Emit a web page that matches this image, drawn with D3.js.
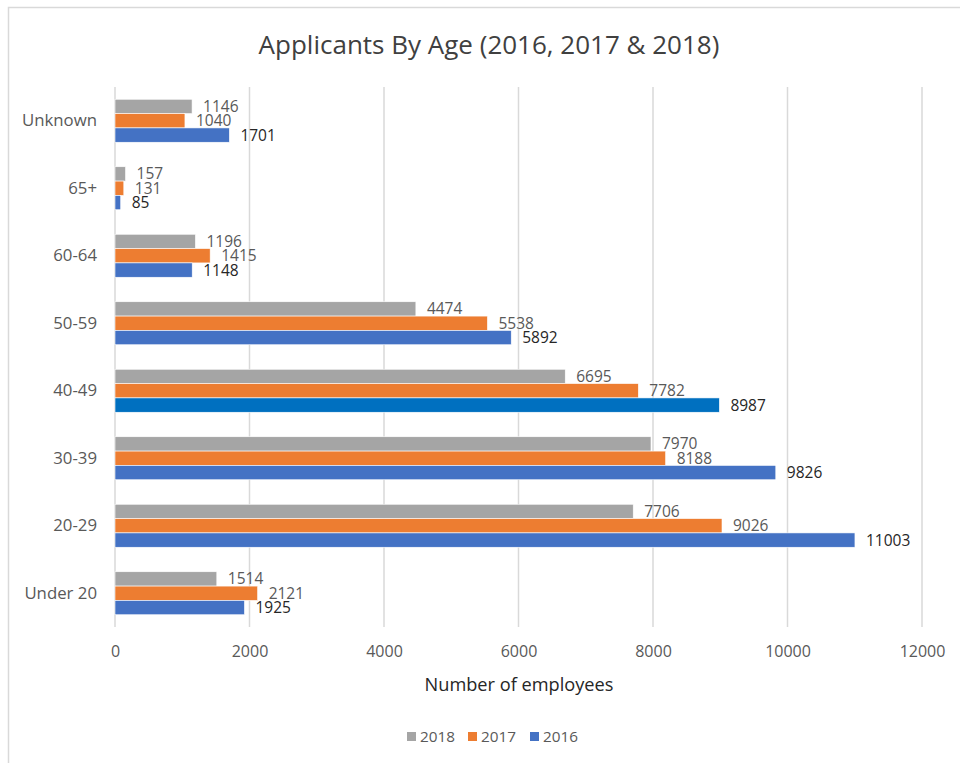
<!DOCTYPE html>
<html>
<head>
<meta charset="utf-8">
<script src="https://cdn.jsdelivr.net/npm/d3@7"></script>
<style>
  html, body { margin: 0; padding: 0; background: #fff; }
  svg { display: block; font-family: "Open Sans", "Noto Sans", sans-serif; }
</style>
</head>
<body>
<svg id="chart" width="960" height="763"></svg>
<script>
// Age groups, listed top to bottom as drawn
const categories = ["Unknown", "65+", "60-64", "50-59", "40-49", "30-39", "20-29", "Under 20"];
const seriesNames = ["2018", "2017", "2016"];
const values2018 = [1146, 157, 1196, 4474, 6695, 7970, 7706, 1514];
const values2017 = [1040, 131, 1415, 5538, 7782, 8188, 9026, 2121];
const values2016 = [1701, 85, 1148, 5892, 8987, 9826, 11003, 1925];
const xTicks = [0, 2000, 4000, 6000, 8000, 10000, 12000];

const seriesValues = { "2018": values2018, "2017": values2017, "2016": values2016 };
const colors = { "2018": "#a5a5a5", "2017": "#ed7d31", "2016": "#4472c4" };
// single highlighted bar (2016, 40-49)
const highlight = { series: "2016", category: "40-49", color: "#0070c0" };

const svg = d3.select("#chart");

// chart frame
svg.append("rect").attr("x", 8.5).attr("y", 7.5).attr("width", 1000).attr("height", 1000)
  .attr("fill", "#fff").attr("stroke", "#d9d9d9").attr("stroke-width", 1.5);

const plot = { left: 115, right: 922, top: 87, bottom: 627 };

const x = d3.scaleLinear().domain([0, 12000]).range([plot.left, plot.right]);
const y = d3.scaleBand().domain(categories).range([plot.top, plot.bottom])
  .paddingInner(0.363).paddingOuter(0.1815);
const ySub = d3.scaleBand().domain(seriesNames).range([0, y.bandwidth()]);

// title
svg.append("text").attr("x", 489).attr("y", 54).attr("text-anchor", "middle")
  .attr("font-size", 26).attr("fill", "#404040").text("Applicants By Age (2016, 2017 & 2018)");

// vertical gridlines
svg.append("g").selectAll("line").data(xTicks).join("line")
  .attr("x1", d => x(d)).attr("x2", d => x(d))
  .attr("y1", plot.top).attr("y2", plot.bottom)
  .attr("stroke", "#d9d9d9").attr("stroke-width", 1.5);

// x axis tick labels
const xAxis = d3.axisBottom(x).tickValues(xTicks).tickSize(0).tickPadding(0).tickFormat(d3.format("d"));
const gx = svg.append("g").attr("transform", `translate(0,${plot.bottom + 25})`).call(xAxis);
gx.select(".domain").remove();
gx.selectAll("text").attr("font-size", 16).attr("fill", "#595959")
  .attr("font-family", "'Open Sans', sans-serif").attr("dy", "0.32em");

// y axis category labels
const yAxis = d3.axisLeft(y).tickSize(0).tickPadding(0);
const gy = svg.append("g").attr("transform", `translate(${plot.left - 18},0)`).call(yAxis);
gy.select(".domain").remove();
gy.selectAll("text").attr("font-size", 16.8).attr("fill", "#595959")
  .attr("font-family", "'Open Sans', sans-serif");

// bars
const rows = [];
seriesNames.forEach(s => {
  categories.forEach((c, i) => rows.push({ series: s, category: c, value: seriesValues[s][i] }));
});

const bars = svg.append("g");
bars.selectAll("rect").data(rows).join("rect")
  .attr("x", x(0))
  .attr("y", d => y(d.category) + ySub(d.series))
  .attr("width", d => x(d.value) - x(0))
  .attr("height", ySub.bandwidth())
  .attr("fill", d => (d.series === highlight.series && d.category === highlight.category) ? highlight.color : colors[d.series])
  .attr("stroke", "#fff").attr("stroke-width", 0.6);

// value labels
svg.append("g").selectAll("text").data(rows).join("text")
  .attr("x", d => x(d.value) + 11)
  .attr("y", d => y(d.category) + ySub(d.series) + ySub.bandwidth() / 2)
  .attr("dy", "0.36em")
  .attr("font-size", 15.5)
  .attr("fill", d => d.series === "2016" ? "#262626" : "#595959")
  .text(d => d.value);

// x axis title
svg.append("text").attr("x", 519).attr("y", 691).attr("text-anchor", "middle")
  .attr("font-size", 18.2).attr("fill", "#262626").text("Number of employees");

// legend
const legendItems = [
  { name: "2018", x: 407 },
  { name: "2017", x: 468 },
  { name: "2016", x: 530 }
];
const lg = svg.append("g").selectAll("g").data(legendItems).join("g")
  .attr("transform", d => `translate(${d.x},737)`);
lg.append("rect").attr("x", 0).attr("y", -5).attr("width", 9).attr("height", 9)
  .attr("fill", d => colors[d.name]);
lg.append("text").attr("x", 13).attr("y", 0).attr("dy", "0.35em")
  .attr("font-size", 15.3).attr("fill", "#595959").text(d => d.name);
</script>
</body>
</html>
